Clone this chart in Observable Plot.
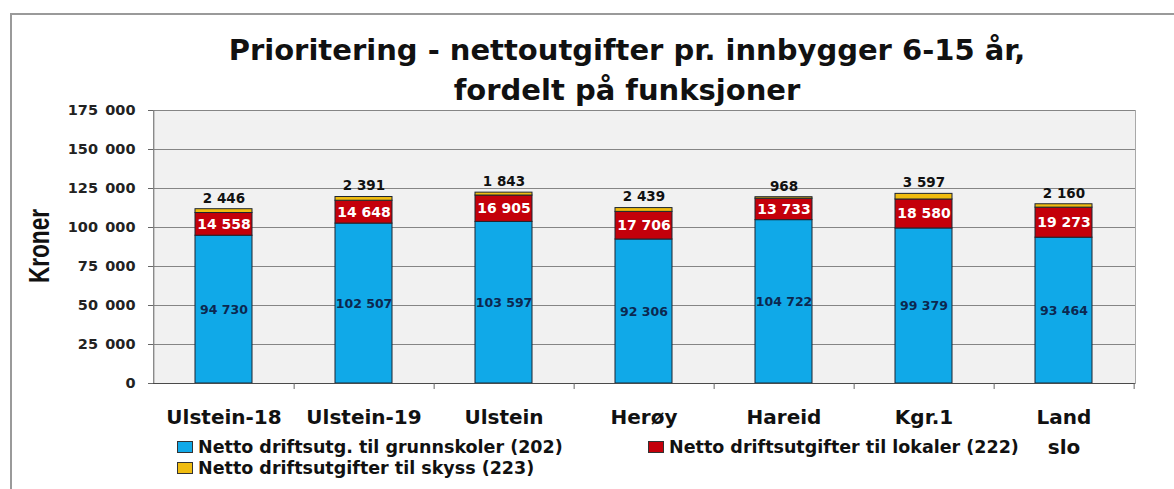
<!DOCTYPE html>
<html><head><meta charset="utf-8">
<script src="https://cdn.jsdelivr.net/npm/d3@7"></script>
<script src="https://cdn.jsdelivr.net/npm/@observablehq/plot@0.6"></script>
<style>
body{margin:0;width:1174px;height:489px;position:relative;overflow:hidden;background:#fff;font-family:"DejaVu Sans",sans-serif;font-weight:bold;}
#frame{position:absolute;left:10px;top:13px;right:-2px;bottom:-2px;border-left:2px solid #9a9a9a;border-top:2px solid #9a9a9a;}
#title{position:absolute;left:0;width:1254px;top:30px;text-align:center;font-size:29px;line-height:40px;color:#111;}
#chart{position:absolute;left:0;top:95px;}
#ylabel{position:absolute;left:39px;top:246px;width:0;height:0;}
#ylabel span{position:absolute;left:0;top:0;transform:translate(-50%,-50%) rotate(-90deg) scale(0.78,1);font-family:"Liberation Sans",Arial,sans-serif;font-weight:bold;font-size:29px;white-space:nowrap;color:#111;}
.item{position:absolute;display:flex;align-items:center;font-size:17.5px;line-height:22px;color:#111;white-space:nowrap;}
.sw{width:14px;height:10px;border:1px solid #333;margin-right:5px;}
</style></head>
<body>
<div id="frame"></div>
<div id="title">Prioritering - nettoutgifter pr. innbygger 6-15 år,<br>fordelt på funksjoner</div>
<div id="chart"></div>
<div id="ylabel"><span>Kroner</span></div>
<div id="legend"></div>
<script>
const categories = ["Ulstein-18","Ulstein-19","Ulstein","Herøy","Hareid","Kgr.1","Land slo"];
const categoryLabels = ["Ulstein-18","Ulstein-19","Ulstein","Herøy","Hareid","Kgr.1","Land\nslo"];
const seriesNames = ["Netto driftsutg. til grunnskoler (202)","Netto driftsutgifter til lokaler (222)","Netto driftsutgifter til skyss (223)"];
const grunnskoler = [94730,102507,103597,92306,104722,99379,93464];
const lokaler = [14558,14648,16905,17706,13733,18580,19273];
const skyss = [2446,2391,1843,2439,968,3597,2160];
const yTicks = [0,25000,50000,75000,100000,125000,150000,175000];
const seriesColors = ["#10a9e8","#c4000a","#f0bc10"];

const seriesValues = [grunnskoler, lokaler, skyss];
const rows = [];
categories.forEach((c, i) => seriesValues.forEach((vals, s) => rows.push({cat: c, s, series: seriesNames[s], value: vals[i]})));
const totals = categories.map((c, i) => ({cat: c, total: grunnskoler[i] + lokaler[i] + skyss[i], value: skyss[i]}));
const labelRows = categories.map((c, i) => ({cat: c, label: categoryLabels[i]}));

const fmt = v => d3.format(",")(v).replace(/,/g, " ");
const yFmt = v => v === 0 ? "0" : `${v / 1000}\u2002000`;

const W = 1174, H = 370, mL = 153, mR = 39, mT = 15, mB = 82;
const step = (W - mL - mR) / categories.length;

const chart = Plot.plot({
  width: W, height: H,
  marginLeft: mL, marginRight: mR, marginTop: mT, marginBottom: mB,
  style: {fontFamily: "'DejaVu Sans', sans-serif", fontWeight: "bold", background: "transparent", overflow: "visible"},
  x: {domain: categories, paddingInner: 0.59, paddingOuter: 0.295, label: null},
  y: {domain: [0, 175000], label: null},
  color: {domain: seriesNames, range: seriesColors},
  marks: [
    Plot.frame({fill: "#f1f1f1", stroke: "#a8a8a8"}),
    Plot.ruleY(yTicks.slice(1), {stroke: "#858585", strokeWidth: 1}),
    Plot.barY(rows, {x: "cat", y: "value", fill: "series", stroke: "#1d2530", strokeWidth: 1, order: null}),
    Plot.text(rows.filter(d => d.s === 0), {x: "cat", y: d => d.value / 2, text: d => fmt(d.value), fill: "#0c2850", fontSize: 12.5}),
    Plot.text(rows, Plot.stackY({x: "cat", y: "value", text: d => d.s === 1 ? fmt(d.value) : "", fill: "white", fontSize: 14})),
    Plot.text(totals, {x: "cat", y: "total", text: d => fmt(d.value), fill: "#111", fontSize: 13.5, dy: -11}),
    Plot.ruleY([0], {stroke: "#4a4a4a"}),
    Plot.ruleX([0], {x: () => categories[0], dx: -step / 2, y1: 0, y2: 175000, stroke: "#7a7a7a"}),
    Plot.axisY({ticks: yTicks, tickFormat: yFmt, tickSize: 5, tickPadding: 13, fontSize: 14.5, fill: "#222", label: null, stroke: "#666"}),
    Plot.axisX({tickSize: 6, tickFormat: () => "", dx: step / 2, label: null, stroke: "#666"}),
    Plot.text(labelRows, {x: "cat", y: () => 0, text: "label", lineAnchor: "top", dy: 19, lineHeight: 1.5, fontSize: 20, fill: "#111"})
  ]
});
document.getElementById("chart").appendChild(chart);

const legendPos = [[177, 436], [648, 436], [177, 457]];
const legend = document.getElementById("legend");
seriesNames.forEach((name, i) => {
  const item = document.createElement("div");
  item.className = "item";
  item.style.left = legendPos[i][0] + "px";
  item.style.top = legendPos[i][1] + "px";
  const sw = document.createElement("span");
  sw.className = "sw";
  sw.style.background = seriesColors[i];
  item.appendChild(sw);
  item.appendChild(document.createTextNode(name));
  legend.appendChild(item);
});
</script>
</body></html>
